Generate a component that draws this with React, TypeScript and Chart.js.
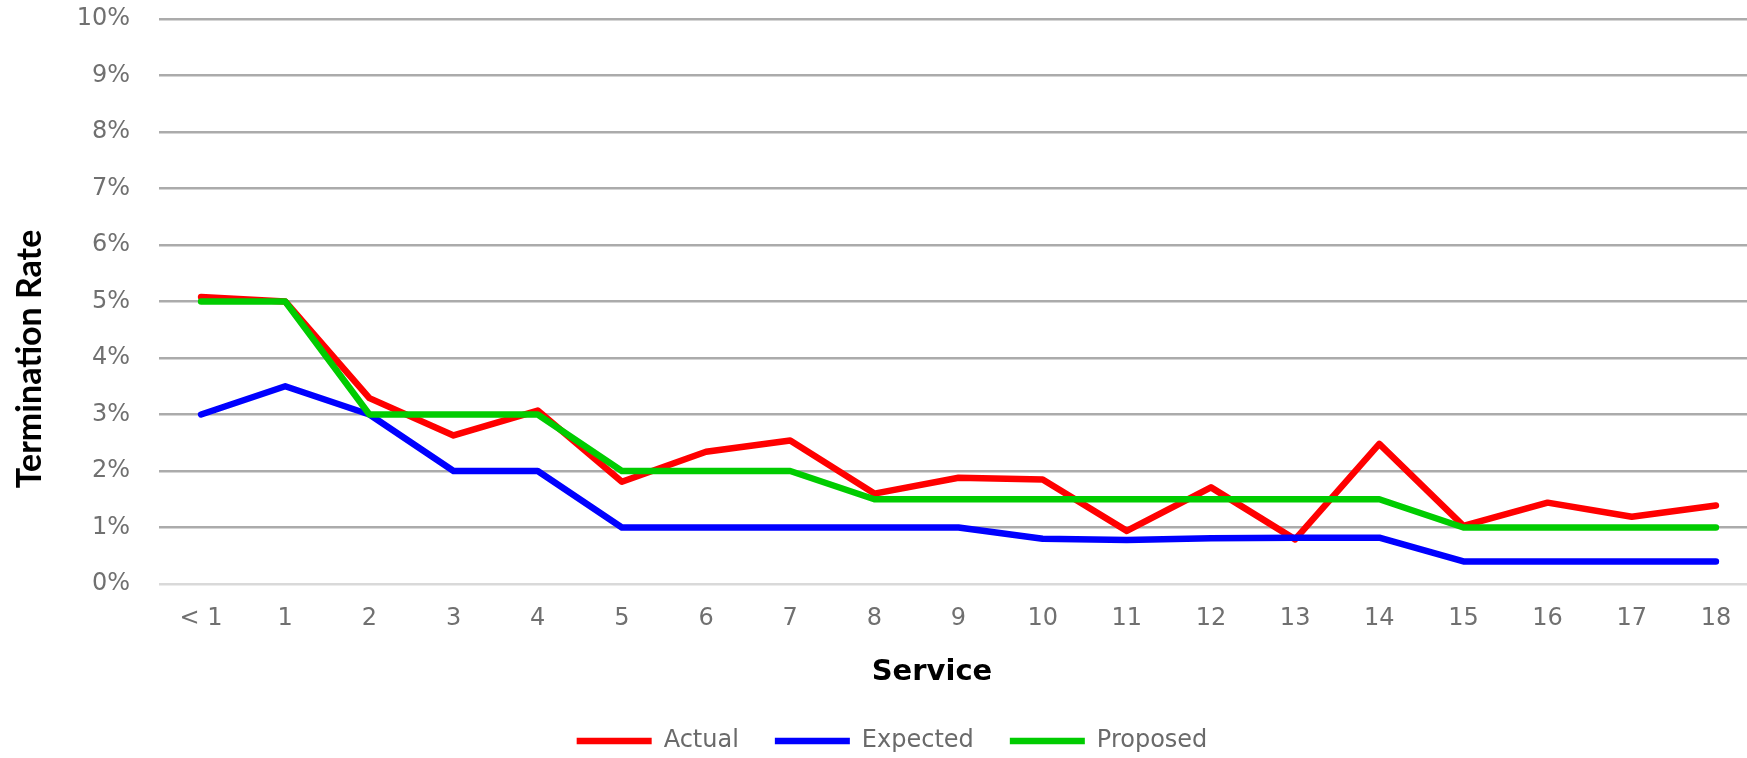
import { useEffect, useRef } from "react";
import { Chart, registerables } from "chart.js";

Chart.register(...registerables);

// Years of service buckets
const categories = ["< 1", "1", "2", "3", "4", "5", "6", "7", "8", "9", "10", "11", "12", "13", "14", "15", "16", "17", "18"];

// Termination rates, in percent
const actual = [5.08, 5.0, 3.29, 2.63, 3.07, 1.81, 2.34, 2.54, 1.6, 1.88, 1.85, 0.94, 1.71, 0.79, 2.48, 1.03, 1.44, 1.19, 1.39];
const expected = [3.0, 3.5, 3.0, 2.0, 2.0, 1.0, 1.0, 1.0, 1.0, 1.0, 0.8, 0.78, 0.81, 0.82, 0.82, 0.4, 0.4, 0.4, 0.4];
const proposed = [5.0, 5.0, 3.0, 3.0, 3.0, 2.0, 2.0, 2.0, 1.5, 1.5, 1.5, 1.5, 1.5, 1.5, 1.5, 1.0, 1.0, 1.0, 1.0];

const seriesNames = ["Actual", "Expected", "Proposed"];
const seriesColors = ["#ff0000", "#0000ff", "#00cc00"];

const yMin = 0;
const yMax = 10;
const yStep = 1;

const xTitle = "Service";
const yTitle = "Termination Rate";

const CANVAS_W = 1760;
const CANVAS_H = 758;

// Draws both axis titles at fixed spots around the plot
const axisTitles = {
  id: "axisTitles",
  afterDraw(chart: any) {
    const { ctx } = chart;
    ctx.save();
    ctx.fillStyle = "#000000";
    ctx.textAlign = "center";
    ctx.textBaseline = "middle";
    ctx.font = "bold 29px 'DejaVu Sans'";
    ctx.fillText(xTitle, 932, 672);
    ctx.translate(30, 359);
    ctx.rotate(-Math.PI / 2);
    ctx.font = "bold 34px Lato";
    ctx.fillText(yTitle, 0, 0);
    ctx.restore();
  },
};

export default function App() {
  const canvasRef = useRef<HTMLCanvasElement | null>(null);

  useEffect(() => {
    const canvas = canvasRef.current;
    if (!canvas) return;

    const data = [actual, expected, proposed];
    const chart = new Chart(canvas, {
      type: "line",
      data: {
        labels: categories,
        datasets: seriesNames.map((name, i) => ({
          label: name,
          data: data[i],
          borderColor: seriesColors[i],
          backgroundColor: seriesColors[i],
          borderWidth: 6.5,
          pointRadius: 0,
          pointHoverRadius: 0,
          borderCapStyle: "round" as const,
          borderJoinStyle: "round" as const,
          tension: 0,
          fill: false,
          order: 3 - i,
        })),
      },
      options: {
        responsive: false,
        animation: false,
        layout: { padding: { top: 19, right: 2, left: 26, bottom: -5 } },
        plugins: {
          tooltip: { enabled: false },
          legend: {
            position: "bottom",
            labels: {
              usePointStyle: true,
              pointStyle: "line",
              pointStyleWidth: 75,
              padding: 36,
              color: "#6a6a6a",
              font: { family: "'DejaVu Sans'", size: 24 },
              sort: (a: any, b: any) => a.datasetIndex - b.datasetIndex,
            },
          },
        },
        scales: {
          x: {
            type: "category",
            offset: true,
            grid: { display: false, drawTicks: false },
            border: { display: false },
            ticks: {
              padding: 20,
              color: "#707070",
              font: { family: "'DejaVu Sans'", size: 24 },
              maxRotation: 0,
              autoSkip: false,
            },
            afterFit(scale: any) {
              scale.height = 109;
              scale.paddingLeft = 0;
              scale.paddingRight = 0;
            },
          },
          y: {
            min: yMin,
            max: yMax,
            grid: {
              drawTicks: false,
              lineWidth: 2.5,
              color: (ctx: any) => (ctx.tick && ctx.tick.value === 0 ? "#d9d9d9" : "#ababab"),
            },
            border: { display: false },
            ticks: {
              stepSize: yStep,
              padding: 29,
              color: "#707070",
              font: { family: "'DejaVu Sans'", size: 24 },
              callback: (v: any) => `${v}%`,
            },
            afterFit(scale: any) {
              scale.width = 133;
              scale.paddingTop = 0;
              scale.paddingBottom = 0;
            },
          },
        },
      },
      plugins: [axisTitles],
    });

    return () => chart.destroy();
  }, []);

  return (
    <div
      style={{
        position: "fixed",
        left: 0,
        top: 0,
        width: 1747,
        height: CANVAS_H,
        overflow: "hidden",
        background: "#ffffff",
      }}
    >
      <canvas ref={canvasRef} width={CANVAS_W} height={CANVAS_H} style={{ display: "block" }} />
    </div>
  );
}
